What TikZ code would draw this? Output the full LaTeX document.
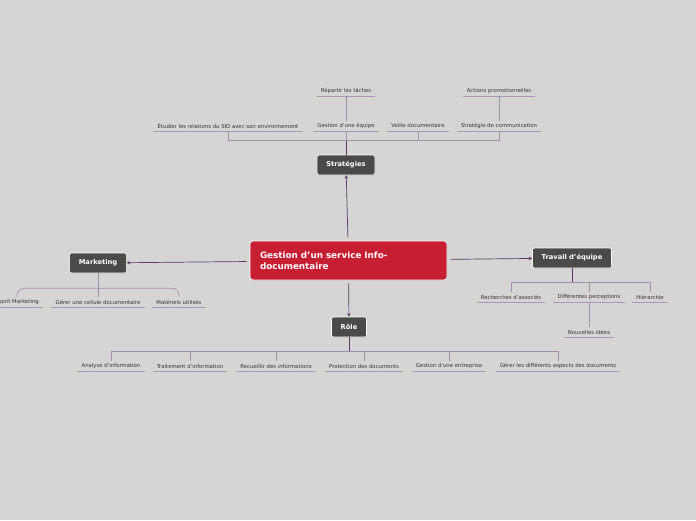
\documentclass[tikz,border=0pt]{standalone}
\usepackage{fontspec}
\setmainfont{DejaVu Sans}
\usetikzlibrary{arrows.meta,shadows}
\definecolor{bgc}{HTML}{D5D6D3}
\definecolor{mainred}{HTML}{C71F32}
\definecolor{topicgray}{HTML}{4A4A48}
\definecolor{darkline}{HTML}{62356F}
\definecolor{lightline}{HTML}{A38EB0}
\definecolor{ulinec}{HTML}{A997B4}
\definecolor{leaftext}{HTML}{333333}
\tikzset{
  mainbox/.style={draw=white, line width=0.8pt, fill=mainred, rounded corners=3pt,
    minimum width=197pt, minimum height=39pt, text width=177pt, align=left,
    text=white, font=\bfseries\fontsize{8.8}{11.5}\selectfont,
    drop shadow={shadow xshift=0.6pt, shadow yshift=-0.6pt, opacity=0.3}},
  topic/.style={draw=white, line width=0.6pt, fill=topicgray, rounded corners=2pt,
    minimum height=20pt, inner xsep=9.2pt, text=white,
    font=\bfseries\fontsize{6.7}{8}\selectfont,
    drop shadow={shadow xshift=0.6pt, shadow yshift=-0.6pt, opacity=0.35}},
  leaf/.style={inner xsep=4pt, inner ysep=0pt, minimum height=10.5pt, text=leaftext,
    font=\fontsize{5.35}{6}\selectfont},
  dark/.style={draw=darkline, line width=0.7pt},
  light/.style={draw=lightline, line width=0.7pt},
  uline/.style={draw=ulinec, line width=0.8pt},
  arr/.style={dark, -{Stealth[length=3.5pt,width=3.5pt]}, shorten <=3pt}
}
\begin{document}
\begin{tikzpicture}[x=1pt,y=-1pt]
\useasboundingbox (0,0) rectangle (696,520);
\fill[bgc] (0,0) rectangle (696,520);

% main and topics
\node[mainbox] (main) at (348.5,260.5) {Gestion d'un service Info-\\documentaire};
\node[topic] (str) at (346,165) {Stratégies};
\node[topic] (mkt) at (98,263) {Marketing};
\node[topic] (trv) at (572,258) {Travail d'équipe};
\node[topic] (role) at (349,327) {Rôle};

% Strategies leaves
\node[leaf] (etud) at (228,126) {Étudier les relations du SID avec son environnement};
\node[leaf] (gest) at (346,126) {Gestion d'une équipe};
\node[leaf] (veil) at (418,126) {Veille documentaire};
\node[leaf] (strc) at (499,126) {Stratégie de communication};
\node[leaf] (rep) at (346,91) {Répartir les tâches};
\node[leaf] (act) at (499,91) {Actions promotionnelles};

% Marketing leaves
\node[leaf] (esp) at (17,302) {Esprit Marketing};
\node[leaf] (gcel) at (98,302) {Gérer une cellule documentaire};
\node[leaf] (mat) at (179,302) {Matériels utilisés};

% Travail leaves
\node[leaf] (rech) at (511,297) {Recherches d'associés};
\node[leaf] (diff) at (589,297) {Différentes perceptions};
\node[leaf] (hier) at (650,297) {Hiérarchie};
\node[leaf] (nouv) at (589,332) {Nouvelles idées};

% Role leaves
\node[leaf] (ana) at (111,366) {Analyse d'information};
\node[leaf] (trait) at (190,366) {Traitement d'information};
\node[leaf] (recu) at (276,366) {Recueillir des informations};
\node[leaf] (prot) at (364,366) {Protection des documents};
\node[leaf] (gent) at (449,366) {Gestion d'une entreprise};
\node[leaf] (gerer) at (558,366) {Gérer les différents aspects des documents};

% underlines
\foreach \n in {etud,gest,veil,strc,rep,act,esp,gcel,mat,rech,diff,hier,nouv,ana,trait,recu,prot,gent,gerer}
  \draw[uline] (\n.south west) -- (\n.south east);

% main connectors
\draw[arr] (main) -- (str);
\draw[arr] (main) -- (mkt);
\draw[arr] (main) -- (trv);
\draw[arr] (main) -- (role);

% Strategies branch
\draw[dark] (str.north) -- ++(0,-14) coordinate (sb);
\foreach \c in {etud,gest,veil,strc}
  \draw[light] (sb) -| (\c.south);
\draw[light] (gest.north) -- (rep.south);
\draw[light] (strc.north) -- (act.south);

% Marketing branch
\draw[light] (mkt.south) -- ++(0,15) coordinate (mb);
\draw[light, rounded corners=7pt] (mb) -| (esp.north);
\draw[light, rounded corners=7pt] (mb) -| (mat.north);
\draw[light] (mb) -- (gcel.north);

% Travail branch
\draw[dark] (trv.south) -- ++(0,14) coordinate (tb);
\foreach \c in {rech,diff,hier}
  \draw[light] (tb) -| (\c.north);
\draw[light] (diff.south) -- (nouv.north);

% Role branch
\draw[dark] (role.south) -- ++(0,14) coordinate (rb);
\foreach \c in {ana,trait,recu,prot,gent,gerer}
  \draw[light] (rb) -| (\c.north);
\end{tikzpicture}
\end{document}
